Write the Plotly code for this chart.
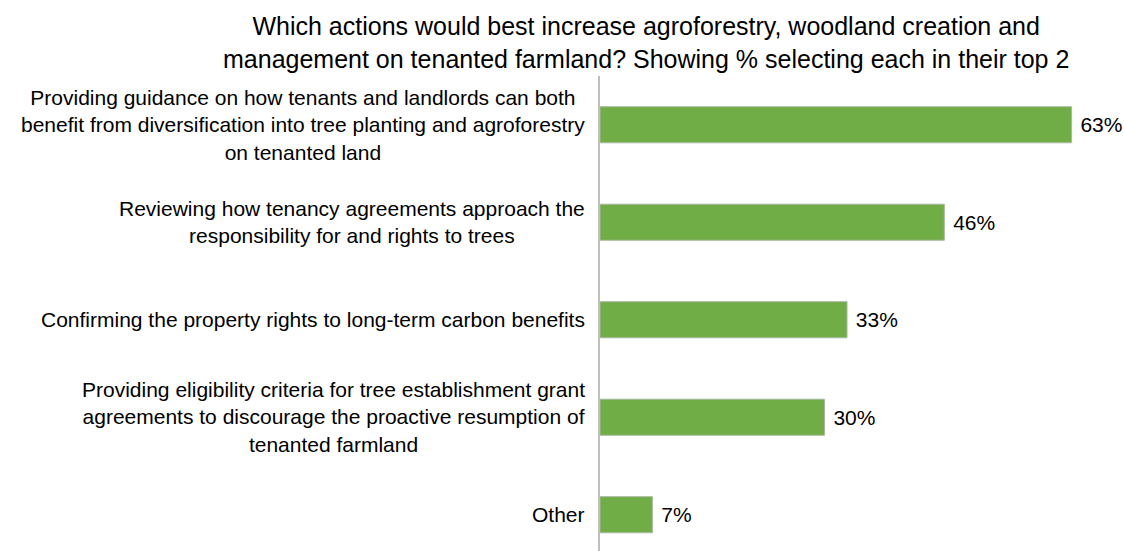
import plotly.graph_objects as go

categories = [
    "Providing guidance on how tenants and landlords can both<br>benefit from diversification into tree planting and agroforestry<br>on tenanted land",
    "Reviewing how tenancy agreements approach the<br>responsibility for and rights to trees",
    "Confirming the property rights to long-term carbon benefits",
    "Providing eligibility criteria for tree establishment grant<br>agreements to discourage the proactive resumption of<br>tenanted farmland",
    "Other",
]
values = [63, 46, 33, 30, 7]

TITLE = ("Which actions would best increase agroforestry, woodland creation and<br>"
         "management on tenanted farmland? Showing % selecting each in their top 2")

FONT = "Liberation Sans, Arial, sans-serif"
positions = list(range(len(categories)))

fig = go.Figure(
    go.Bar(
        x=values,
        y=positions,
        orientation="h",
        width=0.37,
        marker=dict(color="#70AD47", line=dict(color="#A9B9A0", width=1)),
        texttemplate=" %{x}%",
        textposition="outside",
        textfont=dict(family=FONT, size=21, color="#000000"),
        cliponaxis=False,
    )
)

# category labels, centred text block ending just left of the axis line
for pos, label in zip(positions, categories):
    fig.add_annotation(
        x=0, xref="paper", y=pos, yref="y",
        text=label, showarrow=False,
        xanchor="right", align="center", xshift=-13,
        font=dict(family=FONT, size=21, color="#000000"),
    )

# chart title above the plot area, centred at x = 646 px
fig.add_annotation(
    x=(646 - 600) / 524, xref="paper", y=1, yref="paper",
    text=TITLE, showarrow=False,
    xanchor="center", yanchor="bottom", align="center", yshift=1,
    font=dict(family=FONT, size=25, color="#000000"),
)

fig.update_layout(
    width=1124, height=551,
    margin=dict(l=600, r=0, t=76, b=0),
    paper_bgcolor="white", plot_bgcolor="white",
    showlegend=False,
    xaxis=dict(range=[0, 70], visible=False, fixedrange=True),
    yaxis=dict(
        range=[4.372, -0.5], showticklabels=False, showgrid=False,
        zeroline=False, showline=True, linecolor="#BFBFBF", linewidth=2,
        ticks="",
    ),
    bargap=0.6,
)

fig.write_html("out.html")
